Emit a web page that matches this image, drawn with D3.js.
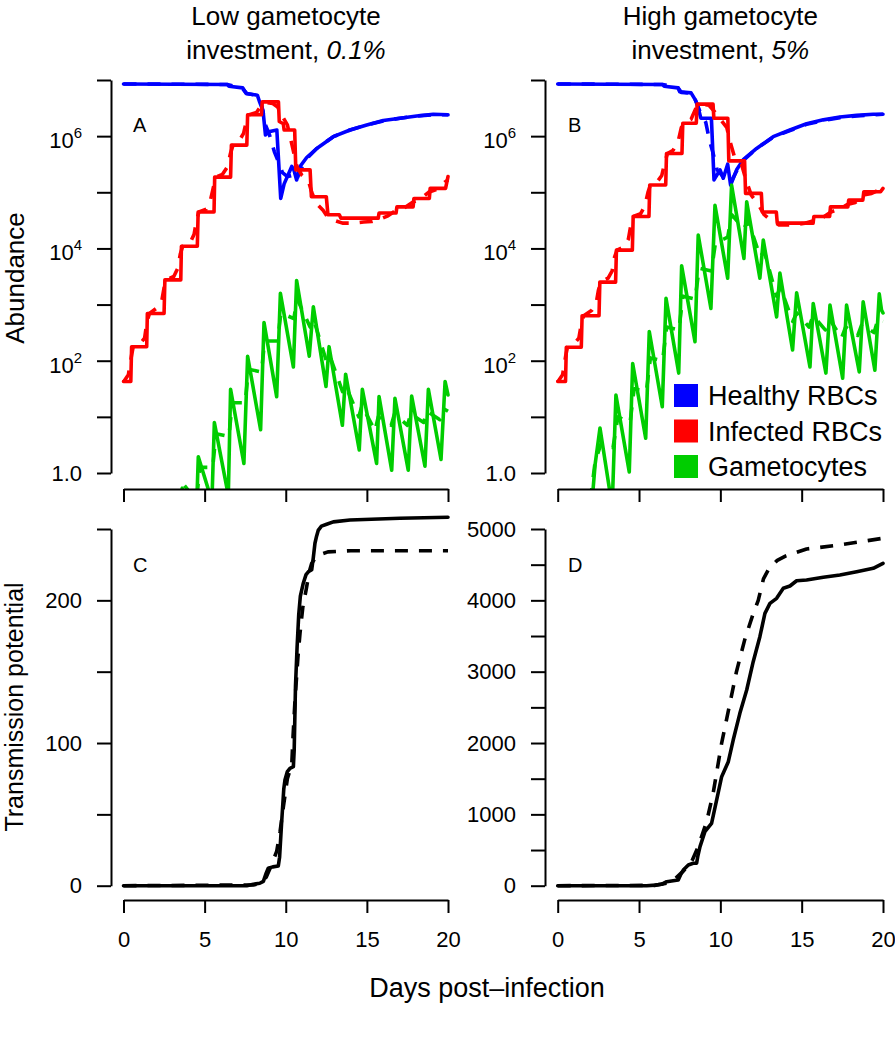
<!DOCTYPE html>
<html><head><meta charset="utf-8">
<script src="https://cdn.jsdelivr.net/npm/d3@7"></script>
<style>
body{margin:0;background:#fff}
svg{display:block}
text{font-family:"Liberation Sans",Arial,Helvetica,sans-serif;fill:#000}
</style></head><body>
<svg id="chart" width="895" height="1050"></svg>
<script>
// ---------------- DATA ----------------
const dayTicks = [0, 5, 10, 15, 20];
const abundanceTickExp = [0, 1, 2, 3, 4, 5, 6, 7];
const abundanceLabelExp = [0, 2, 4, 6];
const tpTicksLow = [0, 50, 100, 150, 200, 250];
const tpLabelsLow = [0, 100, 200];
const tpTicksHigh = [0, 500, 1000, 1500, 2000, 2500, 3000, 3500, 4000, 4500, 5000];
const tpLabelsHigh = [0, 1000, 2000, 3000, 4000, 5000];
const legendNames = ["Healthy RBCs", "Infected RBCs", "Gametocytes"];
const legendColors = ["#0000FF", "#FF0000", "#00CD00"];
const panelLetters = ["A", "B", "C", "D"];

// abundance series: [day, log10(abundance)]
const healthyLowSolid = [[0,6.93],[6.4,6.92],[6.5,6.89],[7.35,6.86],[7.55,6.76],[8.25,6.73],[8.4,6.6],[8.6,6.45],[8.75,6.02],[8.95,6.08],[9.45,6.11],[9.69,4.89],[9.9,5.15],[10.37,5.46],[10.5,5.4],[10.67,5.22],[10.88,5.46],[11.29,5.62],[11.91,5.78],[12.93,5.99],[13.96,6.11],[14.99,6.2],[16.01,6.28],[17.04,6.32],[18.07,6.36],[19.09,6.39],[20,6.38]];
const healthyLowDashed = [[0,6.93],[6.4,6.92],[7.3,6.86],[7.6,6.76],[8.3,6.72],[8.5,6.58],[8.75,6.2],[9.0,6.02],[9.3,5.72],[9.5,5.58],[9.8,5.35],[10.1,5.28],[10.4,5.3],[10.65,5.2],[10.9,5.4],[11.3,5.6],[11.91,5.78],[12.93,5.99],[13.96,6.11],[14.99,6.2],[16.01,6.27],[17.04,6.32],[18.07,6.36],[19.09,6.38],[20,6.38]];
const infectedLowSolid = [[0,1.63],[0.45,1.63],[0.5,2.25],[1.43,2.25],[1.47,2.84],[2.5,2.84],[2.55,3.44],[3.53,3.44],[3.57,4.04],[4.55,4.04],[4.6,4.65],[5.58,4.65],[5.62,5.27],[6.6,5.27],[6.65,5.84],[7.6,5.84],[7.65,6.38],[8.5,6.38],[8.55,6.61],[9.55,6.61],[9.6,6.26],[9.85,6.22],[9.9,6.11],[10.55,6.11],[10.62,5.4],[11.5,5.4],[11.58,4.92],[12.5,4.92],[12.6,4.6],[13.3,4.6],[13.4,4.54],[15.7,4.54],[15.75,4.63],[16.8,4.63],[16.85,4.74],[17.85,4.74],[17.9,4.89],[18.85,4.89],[18.9,5.07],[19.85,5.07],[20,5.28]];
const infectedLowDashed = [[0,1.62],[0.3,1.75],[0.5,2.1],[0.6,2.25],[1.0,2.3],[1.3,2.4],[1.45,2.7],[1.6,2.84],[2.1,2.95],[2.35,3.05],[2.5,3.3],[2.65,3.44],[3.1,3.5],[3.35,3.65],[3.5,3.9],[3.65,4.04],[4.1,4.1],[4.35,4.25],[4.5,4.5],[4.65,4.65],[5.1,4.7],[5.35,4.85],[5.55,5.1],[5.7,5.27],[6.1,5.32],[6.4,5.45],[6.6,5.7],[6.75,5.84],[7.1,5.9],[7.4,6.05],[7.6,6.3],[7.75,6.38],[8.2,6.42],[8.5,6.55],[8.8,6.6],[9.2,6.58],[9.5,6.52],[9.8,6.35],[10.1,6.2],[10.3,5.95],[10.5,5.7],[10.7,5.45],[11.0,5.3],[11.4,5.2],[11.6,5.0],[11.9,4.8],[12.3,4.68],[12.6,4.55],[13.0,4.5],[13.5,4.45],[14.2,4.45],[14.8,4.47],[15.3,4.48],[15.8,4.52],[16.3,4.58],[16.8,4.68],[17.3,4.72],[17.8,4.82],[18.3,4.88],[18.8,5.0],[19.3,5.05],[19.8,5.18],[20,5.22]];
const gametLowSolid = [[3.3,-0.9],[3.62,-0.27],[4.45,-1.1],[4.61,0.29],[5.45,-0.5],[5.6,0.9],[6.46,-0.4],[6.6,1.49],[7.42,0.17],[7.65,2.08],[8.45,0.77],[8.66,2.68],[9.44,1.36],[9.67,3.2],[10.47,1.89],[10.67,3.43],[11.45,2.08],[11.7,2.96],[12.48,1.54],[12.67,2.25],[13.49,0.85],[13.69,1.76],[14.53,0.41],[14.72,1.49],[15.6,0.17],[15.75,1.36],[16.53,0.05],[16.73,1.33],[17.55,0.05],[17.76,1.37],[18.58,0.12],[18.79,1.49],[19.57,0.24],[19.82,1.63],[20,1.39]];
const gametLowDashed = [[3.0,-1.0],[3.7,-0.2],[4.5,-0.5],[4.7,0.1],[5.5,0.1],[5.7,0.7],[6.5,0.65],[6.7,1.25],[7.5,1.25],[7.7,1.85],[8.5,1.8],[8.7,2.35],[9.5,2.35],[9.7,2.85],[10.5,2.75],[10.7,3.1],[11.5,2.6],[11.7,2.75],[12.5,2.0],[12.7,2.1],[13.5,1.45],[13.7,1.55],[14.5,1.0],[14.7,1.2],[15.5,0.75],[15.7,1.0],[16.5,0.85],[16.7,1.05],[17.5,0.85],[17.7,1.05],[18.5,0.9],[18.7,1.1],[19.5,0.95],[19.7,1.15],[20,1.1]];

const healthyHighSolid = [[0,6.93],[6.45,6.92],[6.55,6.89],[7.4,6.86],[7.5,6.79],[8.2,6.77],[8.45,6.65],[8.6,6.55],[8.8,6.32],[9.45,6.32],[9.61,5.22],[9.98,5.4],[10.18,5.25],[10.45,5.5],[10.63,5.13],[11.0,5.4],[11.41,5.58],[12.23,5.78],[13.25,5.99],[14.28,6.11],[15.3,6.22],[16.33,6.29],[17.35,6.34],[18.38,6.37],[19.4,6.39],[20,6.39]];
const healthyHighDashed = [[0,6.93],[6.45,6.92],[7.4,6.86],[7.6,6.78],[8.3,6.76],[8.5,6.62],[8.8,6.4],[9.1,6.25],[9.35,5.9],[9.55,5.7],[9.8,5.4],[10.1,5.3],[10.3,5.22],[10.6,5.15],[11.0,5.38],[11.41,5.57],[12.23,5.78],[13.25,5.98],[14.28,6.1],[15.3,6.21],[16.33,6.28],[17.35,6.33],[18.38,6.36],[19.4,6.38],[20,6.39]];
const infectedHighSolid = [[0,1.63],[0.48,1.63],[0.53,2.24],[1.45,2.24],[1.5,2.8],[2.54,2.8],[2.59,3.4],[3.56,3.4],[3.61,3.97],[4.59,3.97],[4.64,4.57],[5.61,4.57],[5.66,5.13],[6.64,5.13],[6.69,5.69],[7.64,5.69],[7.69,6.23],[8.52,6.23],[8.57,6.57],[9.55,6.57],[9.6,6.32],[10.46,6.32],[10.52,5.56],[11.49,5.56],[11.55,4.98],[12.52,4.98],[12.58,4.65],[13.44,4.65],[13.5,4.45],[15.7,4.45],[15.75,4.57],[16.72,4.57],[16.77,4.74],[17.84,4.74],[17.89,4.86],[18.76,4.86],[18.82,5.01],[19.85,5.01],[20,5.07]];
const infectedHighDashed = [[0,1.62],[0.3,1.75],[0.5,2.1],[0.6,2.24],[1.0,2.3],[1.3,2.4],[1.45,2.65],[1.6,2.8],[2.1,2.9],[2.35,3.0],[2.5,3.25],[2.65,3.4],[3.1,3.47],[3.35,3.6],[3.5,3.85],[3.65,3.97],[4.1,4.03],[4.35,4.17],[4.5,4.42],[4.65,4.57],[5.1,4.62],[5.35,4.75],[5.55,5.0],[5.7,5.13],[6.1,5.18],[6.4,5.3],[6.6,5.55],[6.75,5.69],[7.1,5.75],[7.4,5.9],[7.6,6.15],[7.75,6.23],[8.2,6.3],[8.5,6.5],[8.8,6.57],[9.3,6.55],[9.6,6.45],[10.0,6.3],[10.4,6.15],[10.6,5.9],[10.9,5.6],[11.3,5.5],[11.6,5.2],[11.9,4.95],[12.3,4.8],[12.7,4.6],[13.1,4.5],[13.6,4.42],[14.5,4.42],[15.2,4.45],[15.8,4.5],[16.3,4.55],[16.8,4.65],[17.3,4.7],[17.8,4.78],[18.3,4.82],[18.8,4.95],[19.3,4.98],[19.8,5.05],[20,5.1]];
const gametHighSolid = [[2.0,-0.9],[2.3,0.15],[2.6,0.8],[3.35,-0.6],[3.58,1.39],[4.4,0.02],[4.61,1.95],[5.41,0.62],[5.63,2.52],[6.43,1.18],[6.66,3.11],[7.44,1.78],[7.62,3.69],[8.44,2.34],[8.64,4.24],[9.42,2.93],[9.67,4.77],[10.45,3.47],[10.69,5.13],[11.45,3.82],[11.62,4.83],[12.43,3.47],[12.64,4.15],[13.46,2.78],[13.66,3.56],[14.44,2.19],[14.69,3.21],[15.51,1.89],[15.71,3.02],[16.49,1.78],[16.74,2.99],[17.52,1.69],[17.76,2.99],[18.54,1.8],[18.78,3.05],[19.5,1.83],[19.77,3.19],[19.91,2.9],[20,2.85]];
const gametHighDashed = [[2.0,-0.5],[2.3,0.2],[2.7,0.55],[3.4,0.45],[3.7,1.0],[4.45,0.9],[4.7,1.5],[5.45,1.45],[5.7,2.05],[6.45,2.0],[6.7,2.6],[7.45,2.55],[7.7,3.15],[8.45,3.1],[8.7,3.65],[9.45,3.6],[9.7,4.1],[10.45,4.2],[10.7,4.6],[11.45,4.35],[11.7,4.5],[12.45,3.85],[12.7,3.95],[13.45,3.15],[13.7,3.3],[14.45,2.7],[14.7,2.85],[15.45,2.6],[15.7,2.8],[16.45,2.55],[16.7,2.75],[17.45,2.4],[17.7,2.6],[18.45,2.45],[18.7,2.65],[19.45,2.5],[19.7,2.75],[20,2.7]];

// transmission potential: [day, value]
const tpLowSolid = [[0,0],[7.6,0],[8.0,1],[8.4,1.7],[8.62,3],[8.8,9],[8.92,12.2],[9.2,13.2],[9.54,13.8],[9.62,20],[9.75,45],[9.88,68],[9.95,74],[10.1,80],[10.26,82.3],[10.47,83.4],[10.52,95],[10.6,140],[10.7,167.5],[10.8,190],[10.9,203],[11.08,212],[11.25,218],[11.39,220],[11.6,221.5],[11.7,230],[11.8,240],[11.9,245],[12.0,249],[12.2,252],[12.52,253.3],[12.93,255],[13.96,256.3],[17.04,257.5],[20,258.2]];
const tpLowDashed = [[0,0],[8.0,0.5],[8.5,2],[8.8,6],[9.1,14],[9.44,24],[9.65,38],[9.85,55],[10.1,75],[10.37,85],[10.45,105],[10.57,130],[10.75,160],[10.88,177],[11.05,195],[11.25,207],[11.45,220],[11.6,226],[11.85,230],[12.1,232],[12.6,234],[14,234.8],[20,234.8]];
const tpHighSolid = [[0,0],[5.47,0],[6.0,8],[6.39,20],[6.7,56],[7.1,70],[7.41,80],[7.55,150],[7.72,220],[8.03,290],[8.33,314],[8.54,314],[8.62,420],[8.75,547],[9.05,757],[9.46,875],[9.77,1201],[10.08,1528],[10.49,1738],[10.79,2042],[11.2,2416],[11.62,2743],[12.02,3140],[12.43,3490],[12.74,3818],[13.05,3958],[13.46,4028],[13.87,4169],[14.28,4201],[14.69,4275],[15.3,4285],[16.33,4323],[17.35,4355],[18.38,4402],[19.4,4449],[20,4519]];
const tpHighDashed = [[0,0],[6.0,5],[7.0,50],[7.7,200],[8.2,320],[8.64,547],[9.16,900],[9.56,1300],[10.08,2000],[10.99,3000],[11.5,3450],[12.0,3800],[12.33,4000],[12.65,4300],[13.0,4450],[13.5,4560],[14.0,4620],[15.3,4720],[17.35,4776],[20,4870]];

// ---------------- DRAWING ----------------
const svg = d3.select("#chart");
const FONT = '"Liberation Sans",Arial,Helvetica,sans-serif';

const xLow = d3.scaleLinear().domain([0, 20]).range([123.5, 448]);
const xHigh = d3.scaleLinear().domain([0, 20]).range([557.7, 883]);
const yAbund = d3.scaleLog().domain([1, 1e7]).range([473, 80]);
const yTpLow = d3.scaleLinear().domain([0, 250]).range([885.7, 529]);
const yTpHigh = d3.scaleLinear().domain([0, 5000]).range([885.7, 529]);

const defs = svg.append("defs");
function clip(id, x, y, w, h) {
  defs.append("clipPath").attr("id", id).append("rect").attr("x", x).attr("y", y).attr("width", w).attr("height", h);
}
clip("cA", 110.5, 64, 351, 425);
clip("cB", 544.7, 64, 351, 425);
clip("cC", 110.5, 514.7, 351, 385.3);
clip("cD", 544.7, 514.7, 351, 385.3);

function drawSeries(clipId, x, y, data, color, dashed, isLog) {
  const line = d3.line()
    .x(d => x(d[0]))
    .y(d => y(isLog ? Math.pow(10, d[1]) : d[1]));
  svg.append("path")
    .attr("clip-path", `url(#${clipId})`)
    .attr("d", line(data))
    .attr("fill", "none")
    .attr("stroke", color)
    .attr("stroke-width", 3.6)
    .attr("stroke-linejoin", "round")
    .attr("stroke-linecap", dashed ? "butt" : "round")
    .attr("stroke-dasharray", dashed ? "13,11" : null);
}

function styleAxis(g) {
  g.selectAll("path.domain").attr("stroke", "#000").attr("stroke-width", 2);
  g.selectAll(".tick line").attr("stroke", "#000").attr("stroke-width", 2);
  g.selectAll("text").attr("font-family", FONT).attr("font-size", 22).attr("fill", "#000");
}

function xAxis(x, yPos, withLabels) {
  const ax = d3.axisBottom(x).tickValues(dayTicks).tickSize(13).tickSizeOuter(0)
    .tickPadding(18)
    .tickFormat(withLabels ? d3.format("d") : () => "");
  const g = svg.append("g").attr("transform", `translate(0,${yPos})`).call(ax);
  styleAxis(g);
}

function abundanceAxis(xPos) {
  const ax = d3.axisLeft(yAbund).tickValues(abundanceTickExp.map(e => Math.pow(10, e)))
    .tickSize(14).tickSizeOuter(0).tickFormat(() => "");
  const g = svg.append("g").attr("transform", `translate(${xPos},0)`).call(ax);
  styleAxis(g);
  abundanceLabelExp.forEach(e => {
    const ty = yAbund(Math.pow(10, e));
    if (e === 0) {
      svg.append("text").attr("x", xPos - 29).attr("y", ty + 8)
        .attr("text-anchor", "end").attr("font-size", 22).text("1.0");
    } else {
      const t = svg.append("text").attr("x", xPos - 29).attr("y", ty + 12)
        .attr("text-anchor", "end").attr("font-size", 22);
      t.append("tspan").text("10");
      t.append("tspan").attr("dy", -10).attr("font-size", 15).text(String(e));
    }
  });
}

function tpAxis(xPos, y, ticks, labels) {
  const ax = d3.axisLeft(y).tickValues(ticks).tickSize(14).tickSizeOuter(0).tickPadding(15)
    .tickFormat(d => labels.includes(d) ? String(d) : "");
  const g = svg.append("g").attr("transform", `translate(${xPos},0)`).call(ax);
  styleAxis(g);
}

// Top panels
[["cA", xLow, healthyLowSolid, healthyLowDashed, infectedLowSolid, infectedLowDashed, gametLowSolid, gametLowDashed],
 ["cB", xHigh, healthyHighSolid, healthyHighDashed, infectedHighSolid, infectedHighDashed, gametHighSolid, gametHighDashed]]
.forEach(([cid, x, hs, hd, is, id, gs, gd]) => {
  drawSeries(cid, x, yAbund, hd, legendColors[0], true, true);
  drawSeries(cid, x, yAbund, hs, legendColors[0], false, true);
  drawSeries(cid, x, yAbund, id, legendColors[1], true, true);
  drawSeries(cid, x, yAbund, is, legendColors[1], false, true);
  drawSeries(cid, x, yAbund, gd, legendColors[2], true, true);
  drawSeries(cid, x, yAbund, gs, legendColors[2], false, true);
});

// Bottom panels
drawSeries("cC", xLow, yTpLow, tpLowDashed, "#000", true, false);
drawSeries("cC", xLow, yTpLow, tpLowSolid, "#000", false, false);
drawSeries("cD", xHigh, yTpHigh, tpHighDashed, "#000", true, false);
drawSeries("cD", xHigh, yTpHigh, tpHighSolid, "#000", false, false);

// Axes
abundanceAxis(111);
abundanceAxis(545);
xAxis(xLow, 489, false);
xAxis(xHigh, 489, false);
tpAxis(111, yTpLow, tpTicksLow, tpLabelsLow);
tpAxis(545, yTpHigh, tpTicksHigh, tpLabelsHigh);
xAxis(xLow, 900, true);
xAxis(xHigh, 900, true);

// Panel letters
[[133, 131.7], [568, 131.7], [133, 571.7], [568, 571.7]].forEach((p, i) => {
  svg.append("text").attr("x", p[0]).attr("y", p[1]).attr("font-size", 20).text(panelLetters[i]);
});

// Titles
function title(cx, l1, l2a, l2b) {
  svg.append("text").attr("x", cx).attr("y", 25).attr("text-anchor", "middle").attr("font-size", 26).text(l1);
  const t = svg.append("text").attr("x", cx).attr("y", 59).attr("text-anchor", "middle").attr("font-size", 26);
  t.append("tspan").text(l2a);
  t.append("tspan").attr("font-style", "italic").text(l2b);
}
title(286, "Low gametocyte", "investment, ", "0.1%");
title(720.3, "High gametocyte", "investment, ", "5%");

// Axis titles
svg.append("text").attr("transform", "translate(24,278) rotate(-90)")
  .attr("text-anchor", "middle").attr("font-size", 26).text("Abundance");
svg.append("text").attr("transform", "translate(23,707) rotate(-90)")
  .attr("text-anchor", "middle").attr("font-size", 25).text("Transmission potential");
svg.append("text").attr("x", 487).attr("y", 997).attr("text-anchor", "middle")
  .attr("font-size", 27).text("Days post\u2013infection");

// Legend
legendNames.forEach((n, i) => {
  const top = 384 + i * 35.5;
  svg.append("rect").attr("x", 674).attr("y", top).attr("width", 24).attr("height", 23).attr("fill", legendColors[i]);
  svg.append("text").attr("x", 708).attr("y", top + 21).attr("font-size", 27).text(n);
});
</script>
</body></html>
